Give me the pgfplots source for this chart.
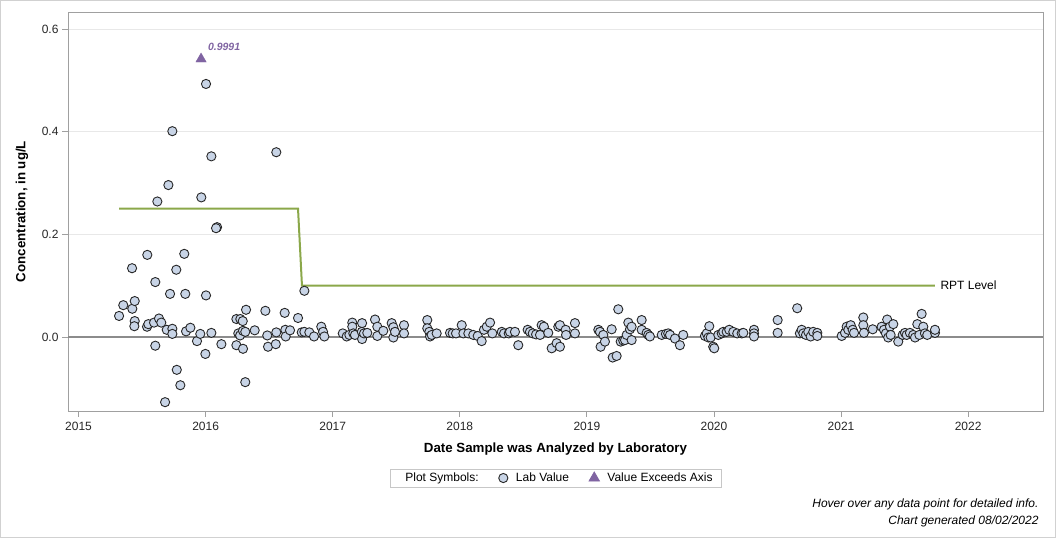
\documentclass[border=0pt]{standalone}
\usepackage{pgfplots}
\pgfplotsset{compat=1.18}
\usepackage{pgfplotstable}
\usepackage{fontspec}
\setmainfont{Liberation Sans}

\definecolor{labfill}{HTML}{C8D4E6}
\definecolor{rptgreen}{HTML}{8BA84A}
\definecolor{exceed}{HTML}{8064A2}
\definecolor{framegray}{HTML}{A0A0A0}
\definecolor{zerogray}{HTML}{8C8C8C}

% Lab results: decimal year of analysis, concentration (ug/L)
\pgfplotstableread{
date conc
2015.319 0.041
2015.352 0.062
2015.421 0.134
2015.423 0.055
2015.442 0.070
2015.442 0.031
2015.439 0.021
2015.541 0.160
2015.539 0.020
2015.549 0.025
2015.594 0.028
2015.604 -0.017
2015.604 0.107
2015.620 0.264
2015.633 0.036
2015.651 0.028
2015.681 -0.127
2015.694 0.014
2015.707 0.296
2015.720 0.084
2015.738 0.401
2015.738 0.016
2015.738 0.006
2015.769 0.131
2015.773 -0.064
2015.801 -0.094
2015.832 0.162
2015.840 0.084
2015.846 0.011
2015.880 0.018
2015.932 -0.008
2015.958 0.006
2015.966 0.272
2016.003 0.493
2016.003 0.081
2015.998 -0.033
2016.045 0.352
2016.045 0.008
2016.090 0.214
2016.082 0.212
2016.124 -0.014
2016.242 0.035
2016.273 0.035
2016.292 0.031
2016.318 0.053
2016.257 0.007
2016.271 0.003
2016.294 0.012
2016.312 0.010
2016.242 -0.016
2016.294 -0.023
2016.312 -0.088
2016.386 0.013
2016.470 0.051
2016.485 0.003
2016.491 -0.019
2016.552 -0.014
2016.556 0.360
2016.556 0.009
2016.622 0.047
2016.627 0.014
2016.630 0.001
2016.664 0.013
2016.727 0.037
2016.756 0.009
2016.777 0.010
2016.816 0.009
2016.777 0.090
2016.853 0.001
2016.910 0.020
2016.924 0.010
2016.934 0.001
2017.079 0.007
2017.110 0.001
2017.131 0.004
2017.154 0.028
2017.154 0.020
2017.162 0.007
2017.175 0.004
2017.231 0.027
2017.231 -0.004
2017.229 0.010
2017.246 0.007
2017.272 0.008
2017.333 0.034
2017.351 0.020
2017.351 0.002
2017.398 0.012
2017.464 0.027
2017.477 0.019
2017.477 -0.001
2017.490 0.010
2017.561 0.023
2017.561 0.007
2017.744 0.033
2017.744 0.017
2017.760 0.010
2017.766 0.001
2017.779 0.004
2017.818 0.007
2017.923 0.008
2017.944 0.007
2017.970 0.007
2018.015 0.023
2018.028 0.007
2018.067 0.007
2018.106 0.004
2018.141 0.002
2018.172 -0.008
2018.190 0.014
2018.212 0.020
2018.238 0.028
2018.256 0.007
2018.330 0.010
2018.348 0.007
2018.385 0.007
2018.395 0.010
2018.434 0.010
2018.460 -0.016
2018.534 0.014
2018.552 0.010
2018.574 0.007
2018.600 0.005
2018.631 0.004
2018.644 0.023
2018.662 0.020
2018.696 0.008
2018.723 -0.022
2018.762 -0.012
2018.775 0.020
2018.788 0.023
2018.788 -0.019
2018.833 0.014
2018.836 0.004
2018.906 0.027
2018.906 0.007
2019.090 0.014
2019.103 0.010
2019.108 -0.019
2019.129 0.004
2019.142 -0.009
2019.195 0.015
2019.203 -0.040
2019.234 -0.037
2019.247 0.054
2019.266 -0.009
2019.286 -0.007
2019.300 -0.006
2019.313 0.004
2019.326 0.028
2019.339 0.015
2019.352 0.020
2019.352 -0.006
2019.431 0.033
2019.431 0.014
2019.470 0.008
2019.483 0.004
2019.496 0.001
2019.589 0.004
2019.622 0.006
2019.640 0.007
2019.654 0.004
2019.693 -0.003
2019.732 -0.016
2019.758 0.004
2019.929 0.002
2019.943 0.007
2019.956 -0.001
2019.963 0.021
2019.974 -0.001
2019.994 -0.019
2020.002 -0.022
2020.034 0.004
2020.061 0.007
2020.073 0.010
2020.100 0.010
2020.120 0.014
2020.152 0.010
2020.183 0.007
2020.218 0.007
2020.231 0.008
2020.315 0.014
2020.315 0.007
2020.315 0.001
2020.501 0.033
2020.501 0.008
2020.655 0.056
2020.676 0.007
2020.690 0.014
2020.703 0.007
2020.724 0.004
2020.742 0.010
2020.761 0.001
2020.781 0.010
2020.813 0.008
2020.813 0.002
2021.005 0.002
2021.031 0.008
2021.044 0.020
2021.057 0.014
2021.076 0.023
2021.091 0.014
2021.102 0.008
2021.175 0.038
2021.175 0.023
2021.180 0.008
2021.249 0.015
2021.319 0.020
2021.338 0.014
2021.353 0.007
2021.363 0.034
2021.371 -0.001
2021.385 0.020
2021.390 0.004
2021.411 0.025
2021.450 -0.009
2021.485 0.004
2021.503 0.008
2021.516 0.004
2021.542 0.008
2021.568 0.004
2021.582 -0.001
2021.600 0.025
2021.616 0.004
2021.634 0.045
2021.647 0.020
2021.660 0.007
2021.678 0.004
2021.739 0.008
2021.739 0.014
}\labvalues

% Results above the top of the value axis
\pgfplotstableread{
date conc
2015.964 0.9991
}\exceeds

% Reporting level step line
\pgfplotstableread{
date level
2015.319 0.25
2016.727 0.25
2016.758 0.10
2021.739 0.10
}\rptlevel

\begin{document}
\begin{tikzpicture}
\useasboundingbox (0,0) rectangle (1056bp,538bp);
\draw[color=black!18] (0.5bp,0.5bp) rectangle (1055.5bp,537.5bp);
\begin{axis}[
  at={(68bp,127bp)}, anchor=south west,
  scale only axis, width=975bp, height=399bp,
  xmin=2014.917, xmax=2022.589,
  ymin=-0.1442, ymax=0.6332,
  xtick={2015,2016,...,2022},
  ytick={0,0.2,0.4,0.6},
  /pgf/number format/assume math mode=true,
  xticklabel style={/pgf/number format/1000 sep={}, yshift=-2bp},
  yticklabel style={/pgf/number format/.cd, fixed, fixed zerofill, precision=1},
  ticklabel style={font=\fontsize{12bp}{14bp}\selectfont, text=black!85},
  tick align=outside,
  major tick length=6bp,
  xtick pos=bottom, ytick pos=left,
  tick style={color=framegray, line width=0.8bp},
  axis line style={color=framegray, line width=0.8bp},
  ymajorgrids,
  major grid style={color=black!9, line width=0.8bp},
  xlabel={Date Sample was Analyzed by Laboratory},
  ylabel={Concentration, in ug/L},
  label style={font=\bfseries\fontsize{13.3bp}{15bp}\selectfont},
  xlabel style={at={(axis description cs:0.5,-0.0952)}, anchor=center},
  ylabel style={at={(axis description cs:-0.0472,0.5)}, anchor=center},
  legend columns=-1,
  legend style={at={(axis description cs:0.5005,-0.168)}, anchor=center,
    draw=black!22, line width=0.8bp, inner xsep=7bp, inner ysep=2bp,
    font=\fontsize{12bp}{14bp}\selectfont,
    /tikz/every odd column/.append style={column sep=6bp},
    /tikz/every even column/.append style={column sep=18bp}},
  legend cell align=left,
  clip=false,
]
\addlegendimage{empty legend}

% zero reference line
\addplot[forget plot, color=zerogray, line width=1.8bp]
  coordinates {(2014.917,0) (2022.589,0)};

% reporting level
\addplot[forget plot, color=rptgreen, line width=2bp]
  table[x=date, y=level] {\rptlevel};
\node[anchor=west, font=\fontsize{12bp}{14bp}\selectfont]
  at (axis cs:2021.739,0.10) {\,RPT Level};

% lab values
\addplot[only marks, mark=*, mark size=4.6bp,
  mark options={fill=labfill, draw=black!85, line width=0.9bp}]
  table[x=date, y=conc] {\labvalues};

% values beyond the axis, drawn at the axis cap and labelled with the value
\addplot[only marks, mark=triangle*, mark size=6bp,
  mark options={fill=exceed, draw=exceed},
  point meta=explicit,
  nodes near coords={\pgfmathprintnumber[fixed,fixed zerofill,precision=4]{\pgfplotspointmeta}},
  nodes near coords style={font=\bfseries\itshape\fontsize{10.5bp}{12bp}\selectfont,
    text=exceed, anchor=center, xshift=23bp, yshift=12bp}]
  table[x=date, y expr={min(\thisrow{conc},0.5416)}, meta=conc] {\exceeds};

\legend{Plot Symbols:,Lab Value,Value Exceeds Axis}
\end{axis}
\node[anchor=base east, font=\itshape\fontsize{12bp}{14bp}\selectfont]
  at (1042bp,31bp) {Hover over any data point for detailed info.};
\node[anchor=base east, font=\itshape\fontsize{12bp}{14bp}\selectfont]
  at (1042bp,14bp) {Chart generated 08/02/2022};
\end{tikzpicture}
\end{document}
